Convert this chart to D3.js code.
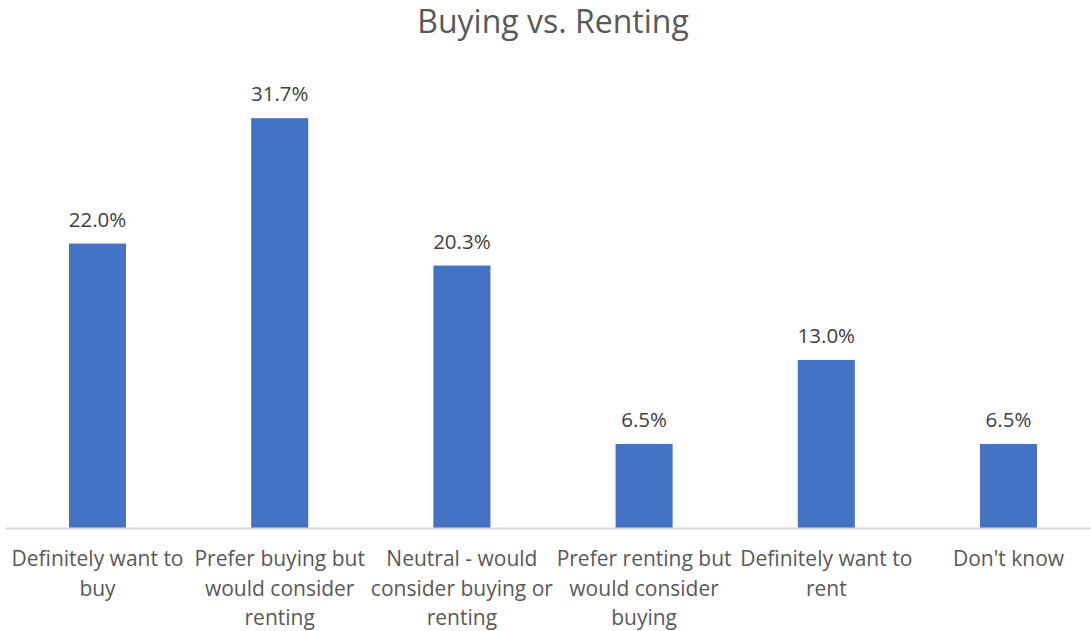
<!DOCTYPE html>
<html>
<head>
<meta charset="utf-8">
<script src="https://cdn.jsdelivr.net/npm/d3@7"></script>
<style>
  html, body { margin: 0; padding: 0; background: #fff; }
  svg { display: block; font-family: "Open Sans", "Noto Sans", sans-serif; }
</style>
</head>
<body>
<svg id="chart" width="1091" height="631"></svg>
<script>
const title = "Buying vs. Renting";
const categories = [
  "Definitely want to buy",
  "Prefer buying but would consider renting",
  "Neutral - would consider buying or renting",
  "Prefer renting but would consider buying",
  "Definitely want to rent",
  "Don't know"
];
const categoryLines = [
  ["Definitely want to", "buy"],
  ["Prefer buying but", "would consider", "renting"],
  ["Neutral - would", "consider buying or", "renting"],
  ["Prefer renting but", "would consider", "buying"],
  ["Definitely want to", "rent"],
  ["Don't know"]
];
const values = [22.0, 31.7, 20.3, 6.5, 13.0, 6.5];
const valueLabels = ["22.0%", "31.7%", "20.3%", "6.5%", "13.0%", "6.5%"];

const svg = d3.select("#chart");
const baseY = 528;

const x = d3.scaleBand()
  .domain(categories)
  .range([6.4, 1099.6])
  .paddingInner(0.687)
  .paddingOuter(0.3435);

const y = d3.scaleLinear().domain([0, 35]).range([baseY, 75.5]);

svg.append("text")
  .attr("x", 553).attr("y", 33)
  .attr("text-anchor", "middle")
  .attr("font-size", 32)
  .attr("fill", "#595959")
  .text(title);

svg.selectAll("rect.bar")
  .data(values)
  .join("rect")
  .attr("class", "bar")
  .attr("x", (d, i) => x(categories[i]))
  .attr("width", x.bandwidth())
  .attr("y", d => y(d))
  .attr("height", d => y(0) - y(d))
  .attr("fill", "#4472C4");

svg.append("line")
  .attr("x1", 6).attr("x2", 1091)
  .attr("y1", baseY + 0.5).attr("y2", baseY + 0.5)
  .attr("stroke", "#d9d9d9").attr("stroke-width", 2);

svg.selectAll("text.vlabel")
  .data(values)
  .join("text")
  .attr("class", "vlabel")
  .attr("x", (d, i) => x(categories[i]) + x.bandwidth() / 2)
  .attr("y", d => y(d) - 17)
  .attr("text-anchor", "middle")
  .attr("font-size", 20.5)
  .attr("fill", "#404040")
  .text((d, i) => valueLabels[i]);

const cat = svg.selectAll("text.cat")
  .data(categories)
  .join("text")
  .attr("class", "cat")
  .attr("text-anchor", "middle")
  .attr("font-size", 21)
  .attr("fill", "#595959");

cat.each(function(d, i) {
  const cx = x(d) + x.bandwidth() / 2;
  d3.select(this).selectAll("tspan")
    .data(categoryLines[i])
    .join("tspan")
    .attr("x", cx)
    .attr("y", (l, j) => 566 + j * 29.5)
    .text(l => l);
});
</script>
</body>
</html>
